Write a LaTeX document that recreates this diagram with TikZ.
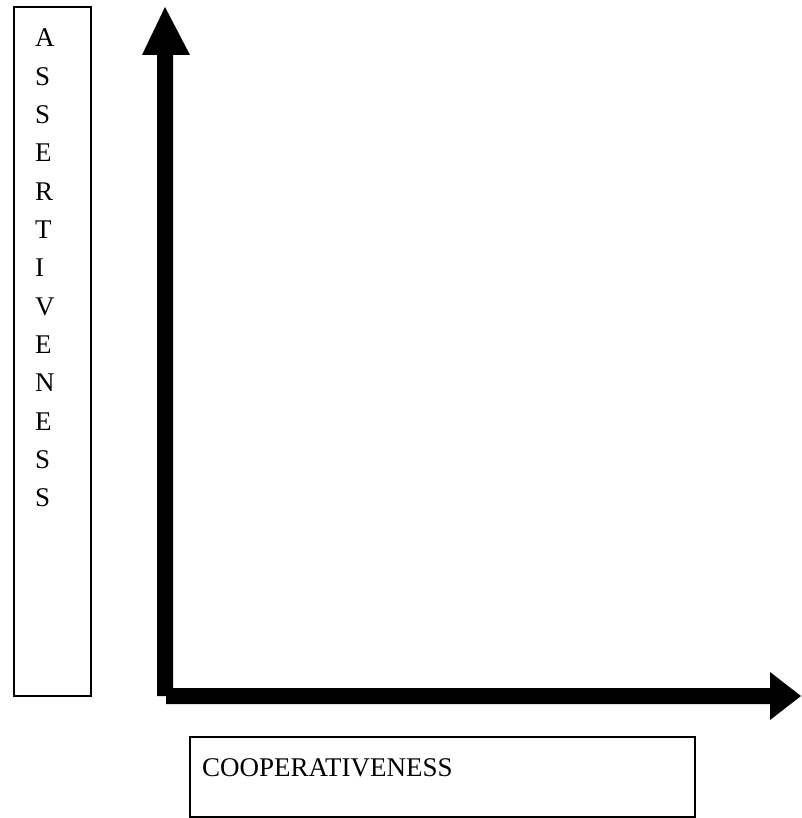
\documentclass[tikz,border=0pt]{standalone}
\usepackage{fontspec}
\setmainfont{Liberation Serif}
\tikzset{
  labelbox/.style={draw=black, line width=1.3pt},
  axisfill/.style={fill=black, draw=none},
  lettertext/.style={anchor=base west, inner sep=0pt, font=\fontsize{27}{30}\selectfont},
}
\begin{document}
\begin{tikzpicture}[x=1pt, y=-1pt]
\useasboundingbox (0,0) rectangle (801,818);
% left label box
\draw[labelbox] (14,7) rectangle (91,696);
\foreach \l [count=\i from 0] in {A,S,S,E,R,T,I,V,E,N,E,S,S} {
  \node[lettertext] (v\i) at (35,{47+38.3*\i}) {\l};
}
% bottom label box
\draw[labelbox] (190,737) rectangle (695,817);
\node[lettertext] (coop) at (202,776) {COOPERATIVENESS};
% vertical axis arrow
\fill[axisfill] (157,696) -- (173,696) -- (173,55) -- (190,55) -- (165,7) -- (142,55) -- (157,55) -- cycle;
% horizontal axis arrow
\fill[axisfill] (166,688) -- (770,688) -- (770,672) -- (801,696) -- (770,720) -- (770,704) -- (166,704) -- cycle;
\end{tikzpicture}
\end{document}
